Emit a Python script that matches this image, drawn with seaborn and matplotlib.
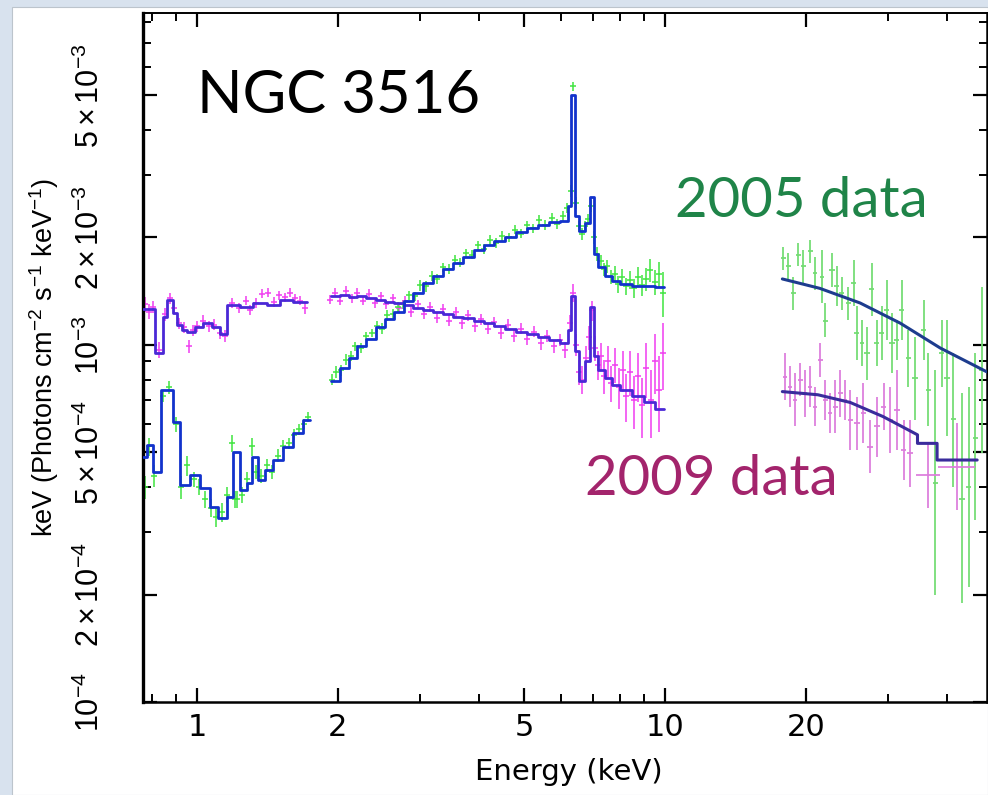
import matplotlib
matplotlib.use("Agg")
import matplotlib.pyplot as plt
import seaborn as sns
import numpy as np
from matplotlib.patches import Rectangle

# ---------------- data ----------------
# soft band, 2009 model: bin edges (keV) and values
soft09_edges = [0.767, 0.813, 0.847, 0.862, 0.890, 0.905, 0.927, 0.951, 0.990, 1.031,
                1.075, 1.120, 1.157, 1.236, 1.319, 1.409, 1.504, 1.606, 1.716]
soft09_model = [1.26e-3, 9.5e-4, 1.20e-3, 1.34e-3, 1.23e-3, 1.14e-3, 1.10e-3, 1.09e-3, 1.12e-3,
                1.15e-3, 1.12e-3, 1.07e-3, 1.29e-3, 1.28e-3, 1.31e-3, 1.29e-3, 1.34e-3, 1.32e-3]
# soft band, 2005 model
soft05_edges = [0.767, 0.781, 0.806, 0.840, 0.890, 0.920, 0.966, 1.015, 1.066, 1.111, 1.157,
                1.196, 1.236, 1.277, 1.309, 1.352, 1.398, 1.456, 1.529, 1.606, 1.687, 1.744]
soft05_model = [4.86e-4, 5.25e-4, 4.41e-4, 7.48e-4, 6.08e-4, 4.06e-4, 4.32e-4, 3.98e-4, 3.52e-4,
                3.28e-4, 3.75e-4, 5.02e-4, 3.93e-4, 4.11e-4, 4.86e-4, 4.19e-4, 4.47e-4, 4.76e-4,
                5.18e-4, 5.67e-4, 6.17e-4]

# soft band data points (keV, 1e-3 units)
soft09_E = [0.775, 0.790, 0.805, 0.830, 0.855, 0.875, 0.895, 0.915, 0.940, 0.960, 0.980, 1.000,
            1.030, 1.060, 1.090, 1.120, 1.150, 1.190, 1.230, 1.270, 1.300, 1.340, 1.380, 1.420,
            1.460, 1.500, 1.540, 1.580, 1.620, 1.660, 1.700]
soft09_v = [1.30, 1.24, 1.28, 0.97, 1.22, 1.35, 1.27, 1.15, 1.12, 0.99, 1.10, 1.13, 1.17, 1.13,
            1.14, 1.08, 1.06, 1.31, 1.27, 1.33, 1.25, 1.31, 1.39, 1.40, 1.32, 1.38, 1.36, 1.40,
            1.35, 1.33, 1.27]
soft09_err = [0.06, 0.06, 0.05, 0.05, 0.05, 0.05, 0.05, 0.04, 0.04, 0.04, 0.04, 0.04, 0.04, 0.04,
              0.04, 0.04, 0.04, 0.04, 0.04, 0.04, 0.04, 0.04, 0.04, 0.04, 0.04, 0.04, 0.04, 0.04,
              0.04, 0.04, 0.05]
soft05_E = [0.775, 0.790, 0.810, 0.845, 0.870, 0.900, 0.925, 0.950, 0.985, 1.010, 1.040, 1.070,
            1.100, 1.130, 1.160, 1.190, 1.205, 1.220, 1.250, 1.280, 1.310, 1.340, 1.370, 1.410,
            1.450, 1.490, 1.530, 1.570, 1.610, 1.650, 1.690, 1.730]
soft05_v = [0.40, 0.52, 0.43, 0.72, 0.76, 0.60, 0.40, 0.46, 0.42, 0.40, 0.37, 0.35, 0.33, 0.34,
            0.38, 0.53, 0.37, 0.37, 0.38, 0.42, 0.52, 0.44, 0.43, 0.46, 0.44, 0.49, 0.52, 0.53,
            0.56, 0.58, 0.60, 0.63]
soft05_err = [0.03, 0.03, 0.03, 0.03, 0.03, 0.03, 0.03, 0.03, 0.02, 0.02, 0.02, 0.02, 0.02, 0.02,
              0.02, 0.03, 0.02, 0.02, 0.02, 0.02, 0.03, 0.02, 0.02, 0.02, 0.02, 0.02, 0.02, 0.02,
              0.02, 0.02, 0.02, 0.02]

# 2-10 keV band models: bin edges and values
hard_edges = [1.93, 2.02, 2.11, 2.20, 2.30, 2.41, 2.52, 2.64, 2.77, 2.90, 3.04, 3.19, 3.35,
              3.52, 3.70, 3.90, 4.10, 4.32, 4.55, 4.80, 5.06, 5.34, 5.64, 5.95, 6.20, 6.30,
              6.42, 6.55, 6.75, 6.90, 7.05, 7.20, 7.45, 7.70, 8.00, 8.50, 9.00, 9.50, 9.95]
hard05_model = [0.79e-3, 0.86e-3, 0.92e-3, 0.99e-3, 1.04e-3, 1.12e-3, 1.18e-3, 1.24e-3, 1.33e-3,
                1.40e-3, 1.49e-3, 1.56e-3, 1.63e-3, 1.70e-3, 1.76e-3, 1.84e-3, 1.90e-3, 1.95e-3,
                2.01e-3, 2.07e-3, 2.12e-3, 2.17e-3, 2.21e-3, 2.22e-3, 2.45e-3, 5.0e-3, 2.30e-3,
                2.08e-3, 2.20e-3, 2.60e-3, 1.80e-3, 1.65e-3, 1.56e-3, 1.51e-3, 1.48e-3, 1.46e-3,
                1.46e-3, 1.45e-3]
hard09_model = [1.37e-3, 1.38e-3, 1.36e-3, 1.37e-3, 1.35e-3, 1.34e-3, 1.32e-3, 1.31e-3, 1.29e-3,
                1.27e-3, 1.25e-3, 1.24e-3, 1.22e-3, 1.20e-3, 1.19e-3, 1.17e-3, 1.15e-3, 1.13e-3,
                1.11e-3, 1.09e-3, 1.07e-3, 1.05e-3, 1.03e-3, 1.01e-3, 1.10e-3, 1.37e-3, 0.96e-3,
                0.79e-3, 0.90e-3, 1.28e-3, 0.93e-3, 0.85e-3, 0.81e-3, 0.77e-3, 0.75e-3, 0.72e-3,
                0.69e-3, 0.66e-3]

# 2-10 keV data points (keV, 1e-3 units)
hard05_E = [1.94, 1.98, 2.03, 2.08, 2.13, 2.18, 2.24, 2.30, 2.36, 2.42, 2.48, 2.55, 2.62, 2.69,
            2.76, 2.84, 2.92, 3.00, 3.08, 3.17, 3.26, 3.35, 3.45, 3.55, 3.65, 3.76, 3.87, 3.99,
            4.11, 4.23, 4.36, 4.49, 4.63, 4.77, 4.92, 5.07, 5.23, 5.39, 5.55, 5.72, 5.89, 6.05,
            6.18, 6.28, 6.36, 6.45, 6.55, 6.65, 6.76, 6.86, 6.96, 7.06, 7.16, 7.28, 7.40, 7.53,
            7.66, 7.80, 7.94, 8.09, 8.24, 8.40, 8.57, 8.74, 8.92, 9.10, 9.30, 9.50, 9.70, 9.88]
hard05_v = [0.80, 0.84, 0.85, 0.91, 0.93, 0.99, 0.98, 1.06, 1.08, 1.13, 1.11, 1.21, 1.22, 1.28,
            1.30, 1.38, 1.37, 1.47, 1.46, 1.56, 1.53, 1.65, 1.63, 1.73, 1.70, 1.81, 1.79, 1.90,
            1.86, 1.97, 1.93, 2.02, 2.00, 2.10, 2.05, 2.16, 2.12, 2.24, 2.17, 2.27, 2.18, 2.30,
            2.42, 2.70, 5.30, 2.50, 2.15, 2.05, 2.15, 2.25, 2.45, 2.00, 1.80, 1.72, 1.63, 1.66,
            1.55, 1.58, 1.48, 1.55, 1.46, 1.52, 1.44, 1.55, 1.47, 1.53, 1.62, 1.50, 1.58, 1.40]
hard05_err = [0.03, 0.03, 0.03, 0.03, 0.03, 0.03, 0.03, 0.03, 0.03, 0.04, 0.04, 0.04, 0.04, 0.04,
              0.04, 0.04, 0.04, 0.05, 0.05, 0.05, 0.05, 0.05, 0.05, 0.05, 0.05, 0.05, 0.05, 0.06,
              0.06, 0.06, 0.06, 0.06, 0.06, 0.06, 0.06, 0.06, 0.06, 0.07, 0.07, 0.07, 0.07, 0.07,
              0.08, 0.10, 0.15, 0.10, 0.08, 0.08, 0.08, 0.08, 0.10, 0.08, 0.08, 0.07, 0.07, 0.07,
              0.07, 0.08, 0.08, 0.08, 0.08, 0.09, 0.09, 0.10, 0.10, 0.11, 0.12, 0.12, 0.13, 0.20]
hard09_E = [1.92, 1.97, 2.02, 2.08, 2.14, 2.20, 2.26, 2.33, 2.40, 2.47, 2.54, 2.62, 2.70, 2.78,
            2.87, 2.96, 3.05, 3.15, 3.25, 3.35, 3.46, 3.57, 3.68, 3.80, 3.92, 4.05, 4.18, 4.32,
            4.46, 4.61, 4.76, 4.92, 5.08, 5.25, 5.42, 5.60, 5.78, 5.96, 6.12, 6.25, 6.36, 6.46,
            6.56, 6.66, 6.77, 6.88, 6.98, 7.08, 7.19, 7.30, 7.42, 7.55, 7.68, 7.82, 7.96, 8.11,
            8.26, 8.42, 8.59, 8.76, 8.94, 9.12, 9.31, 9.50, 9.70, 9.88]
hard09_v = [1.34, 1.40, 1.33, 1.42, 1.35, 1.40, 1.33, 1.39, 1.31, 1.37, 1.30, 1.35, 1.27, 1.33,
            1.24, 1.30, 1.22, 1.28, 1.19, 1.26, 1.17, 1.24, 1.15, 1.21, 1.13, 1.18, 1.11, 1.16,
            1.08, 1.14, 1.06, 1.11, 1.04, 1.09, 1.01, 1.06, 0.99, 1.03, 0.97, 1.15, 1.40, 1.00,
            0.84, 0.80, 0.92, 1.05, 1.25, 0.98, 0.88, 0.93, 0.82, 0.90, 0.78, 0.88, 0.76, 0.85,
            0.72, 0.84, 0.70, 0.82, 0.68, 0.86, 0.70, 0.90, 0.75, 0.95]
hard09_err = [0.04, 0.04, 0.04, 0.04, 0.04, 0.04, 0.04, 0.04, 0.04, 0.04, 0.04, 0.04, 0.04, 0.04,
              0.04, 0.04, 0.04, 0.04, 0.04, 0.04, 0.04, 0.04, 0.04, 0.04, 0.04, 0.04, 0.04, 0.04,
              0.04, 0.04, 0.04, 0.04, 0.04, 0.04, 0.04, 0.04, 0.04, 0.04, 0.05, 0.06, 0.08, 0.07,
              0.07, 0.07, 0.07, 0.08, 0.08, 0.08, 0.08, 0.08, 0.09, 0.09, 0.09, 0.10, 0.10, 0.11,
              0.11, 0.12, 0.12, 0.13, 0.13, 0.15, 0.15, 0.17, 0.18, 0.20]

# 15-50 keV band models
hi05_model_E = [17.8, 21.4, 26.1, 31.8, 38.7, 48.7]
hi05_model = [1.53e-3, 1.44e-3, 1.31e-3, 1.15e-3, 0.98e-3, 0.84e-3]
hi09_model_E = [17.8, 21.2, 24.85, 29.2, 32.9, 34.6, 34.6, 38.1, 38.1, 46.4]
hi09_model = [0.74e-3, 0.725e-3, 0.69e-3, 0.63e-3, 0.58e-3, 0.56e-3, 0.53e-3, 0.53e-3,
              0.476e-3, 0.476e-3]

# 15-50 keV data (keV, half bin width, centre / low / high in 1e-3 units)
hi05_E = [17.9, 18.34, 18.8, 19.27, 19.75, 20.4, 20.9, 21.62, 21.98, 22.71, 23.27, 23.86, 24.64,
          25.26, 25.68, 26.32, 26.98, 27.65, 28.34, 29.04, 29.76, 30.5, 31.26, 32.04, 33.1, 34.2,
          35.64, 36.5, 37.75, 39.0, 40.0, 41.3, 43.05, 44.5, 45.95, 47.5]
hi05_dE = [0.2, 0.2, 0.2, 0.2, 0.25, 0.25, 0.25, 0.25, 0.25, 0.3, 0.3, 0.3, 0.3, 0.3, 0.3, 0.3,
           0.35, 0.35, 0.35, 0.35, 0.35, 0.4, 0.4, 0.4, 0.4, 0.45, 0.45, 0.45, 0.5, 0.5, 0.5,
           0.55, 0.6, 0.6, 0.6, 0.6]
hi05_v = [1.75, 1.66, 1.40, 1.79, 1.66, 1.83, 1.59, 1.55, 1.17, 1.62, 1.46, 1.40, 1.31, 1.49,
          1.08, 1.01, 0.95, 1.43, 1.01, 1.08, 1.25, 1.01, 1.03, 1.25, 0.92, 0.81, 1.10, 0.75,
          0.41, 0.95, 0.81, 0.62, 0.37, 0.40, 0.55, 0.85]
hi05_lo = [1.623, 1.521, 1.253, 1.658, 1.489, 1.694, 1.426, 1.308, 1.055, 1.457, 1.281, 1.253,
           1.175, 1.281, 0.908, 0.870, 0.798, 1.201, 0.870, 0.908, 1.033, 0.833, 0.908, 1.033,
           0.764, 0.617, 0.908, 0.591, 0.200, 0.764, 0.554, 0.401, 0.189, 0.210, 0.323, 0.497]
hi05_hi = [1.886, 1.806, 1.554, 1.927, 1.846, 1.968, 1.768, 1.846, 1.308, 1.806, 1.658, 1.554,
           1.457, 1.730, 1.281, 1.175, 1.125, 1.694, 1.175, 1.281, 1.521, 1.227, 1.175, 1.521,
           1.102, 1.055, 1.337, 0.948, 0.851, 1.175, 1.175, 0.948, 0.732, 0.764, 0.948, 1.457]
hi09_E = [18.05, 18.5, 18.96, 19.44, 19.92, 20.4, 20.9, 21.44, 21.98, 22.5, 23.08, 23.65, 24.24,
          24.85, 25.68, 26.53, 27.42, 28.34, 29.28, 30.26, 31.26, 32.3, 33.38, 36.5, 42.0]
hi09_dE = [0.2, 0.2, 0.2, 0.22, 0.22, 0.22, 0.25, 0.25, 0.25, 0.25, 0.28, 0.28, 0.28, 0.3, 0.35,
           0.35, 0.38, 0.38, 0.4, 0.4, 0.42, 0.45, 0.45, 2.1, 3.8]
hi09_v = [0.815, 0.764, 0.701, 0.798, 0.732, 0.764, 0.672, 0.908, 0.701, 0.644, 0.672, 0.732,
          0.701, 0.617, 0.603, 0.644, 0.519, 0.591, 0.672, 0.617, 0.658, 0.508, 0.497, 0.432,
          0.456]
hi09_lo = [0.701, 0.672, 0.591, 0.720, 0.630, 0.672, 0.591, 0.815, 0.617, 0.565, 0.565, 0.630,
           0.617, 0.508, 0.508, 0.530, 0.437, 0.486, 0.578, 0.497, 0.508, 0.418, 0.401, 0.350,
           0.345]
hi09_hi = [0.948, 0.870, 0.833, 0.890, 0.851, 0.870, 0.764, 1.011, 0.798, 0.732, 0.798, 0.851,
           0.798, 0.748, 0.716, 0.780, 0.617, 0.716, 0.780, 0.764, 0.851, 0.617, 0.617, 0.530,
           0.603]

# axis ticks
x_major = [1, 2, 5, 10, 20]
x_major_labels = ["1", "2", "5", "10", "20"]
x_minor = [0.8, 0.9, 3, 4, 6, 7, 8, 9, 30, 40]
y_major = [1e-4, 2e-4, 5e-4, 1e-3, 2e-3, 5e-3]
y_major_labels = [r"$10^{-4}$", r"$2\times10^{-4}$", r"$5\times10^{-4}$",
                  r"$10^{-3}$", r"$2\times10^{-3}$", r"$5\times10^{-3}$"]
y_minor = [3e-4, 4e-4, 6e-4, 7e-4, 8e-4, 9e-4, 3e-3, 4e-3, 6e-3, 7e-3, 8e-3]

# ---------------- style ----------------
sns.set_theme(style="ticks")
plt.rcParams['font.family'] = ['Liberation Sans', 'DejaVu Sans']
plt.rcParams['mathtext.fontset'] = 'custom'
plt.rcParams['mathtext.rm'] = 'Liberation Sans'
plt.rcParams['mathtext.it'] = 'Liberation Sans:italic'
plt.rcParams['mathtext.bf'] = 'Liberation Sans:bold'
plt.rcParams['axes.labelcolor'] = 'black'
plt.rcParams['text.color'] = 'black'

BG = '#d8e2ee'
GREEN = '#3ee43e'
GREEN_HI = '#72dc72'
MAG = '#f03cf0'
MAG_HI = '#dc7ddc'
BLUE05 = '#1232cc'
BLUE09 = '#4a28d6'
NAVY05 = '#1d3c8e'
NAVY09 = '#3a2c9c'

fig = plt.figure(figsize=(9.88, 7.95), dpi=100)
fig.patch.set_facecolor(BG)
fig.patches.append(Rectangle((12 / 988, 0), 976 / 988, 788 / 795, transform=fig.transFigure,
                             facecolor='white', edgecolor='#bcc4cc', lw=0.8, zorder=-10))
ax = fig.add_axes([143 / 988, 93 / 795, 844 / 988, 689 / 795])
ax.set_zorder(5)
ax.set_facecolor('white')

S = 1e-3


def data_err(E, v, err, color, ms=4.5):
    vv = np.array(v) * S
    ee = np.array(err) * S
    ax.errorbar(E, vv, yerr=ee, fmt='_', color=color, ecolor=color, ms=ms, mew=1.1,
                elinewidth=1.1, zorder=2)


def data_range(E, dE, v, lo, hi, color):
    vv = np.array(v) * S
    yerr = [vv - np.array(lo) * S, np.array(hi) * S - vv]
    ax.errorbar(E, vv, xerr=dE, yerr=yerr, fmt='none', ecolor=color, elinewidth=1.4,
                alpha=0.9, zorder=2)


def step_model(edges, vals, color, lw=2.0):
    sns.lineplot(x=list(edges), y=list(vals) + [vals[-1]], drawstyle='steps-post',
                 estimator=None, sort=False, color=color, lw=lw, ax=ax, zorder=3)


# data
data_err(soft09_E, soft09_v, soft09_err, MAG)
data_err(soft05_E, soft05_v, soft05_err, GREEN)
data_err(hard09_E, hard09_v, hard09_err, MAG)
data_err(hard05_E, hard05_v, hard05_err, GREEN)
data_range(hi05_E, hi05_dE, hi05_v, hi05_lo, hi05_hi, GREEN_HI)
data_range(hi09_E, hi09_dE, hi09_v, hi09_lo, hi09_hi, MAG_HI)

# models
step_model(soft09_edges, soft09_model, BLUE09)
step_model(soft05_edges, soft05_model, BLUE05)
step_model(hard_edges, hard09_model, BLUE09)
step_model(hard_edges, hard05_model, BLUE05)
sns.lineplot(x=hi05_model_E, y=hi05_model, estimator=None, sort=False, color=NAVY05, lw=2.2,
             ax=ax, zorder=3)
sns.lineplot(x=hi09_model_E, y=hi09_model, estimator=None, sort=False, color=NAVY09, lw=2.2,
             ax=ax, zorder=3)

# axes
ax.set_xscale('log')
ax.set_yscale('log')
ax.set_xlim(0.767, 48.7)
ax.set_ylim(1e-4, 8.5e-3)
ax.set_xticks(x_major)
ax.set_xticklabels(x_major_labels, fontsize=22, family='DejaVu Sans')
ax.set_xticks(x_minor, minor=True)
ax.set_xticklabels([], minor=True)
ax.set_yticks(y_major)
ax.set_yticklabels(y_major_labels, fontsize=22, rotation=90, va='center')
ax.set_yticks(y_minor, minor=True)
ax.set_yticklabels([], minor=True)
ax.tick_params(which='both', direction='in', top=True, right=True, colors='black',
               labelcolor='black')
ax.tick_params(which='major', length=10, width=1.6)
ax.tick_params(which='minor', length=6, width=1.4)
ax.tick_params(axis='y', which='major', pad=27)
ax.tick_params(axis='x', which='major', pad=8)
for side, lw in (('left', 2.4), ('bottom', 1.8), ('top', 1.4), ('right', 1.8)):
    ax.spines[side].set_linewidth(lw)
    ax.spines[side].set_color('black')

ax.set_xlabel("Energy (keV)", fontsize=21, family='DejaVu Sans', color='black')
ax.xaxis.set_label_coords(0.505, -0.082)
ax.xaxis.label.set_va('top')
ax.set_ylabel(r"keV (Photons cm$^{-2}$ s$^{-1}$ keV$^{-1}$)", fontsize=19.5, color='black')
ax.yaxis.set_label_coords(-0.097, 0.5)

# annotations
ax.text(0.064, 0.855, "NGC 3516", transform=ax.transAxes, fontsize=43, family='Lato',
        color='black', va='baseline', ha='left')
ax.text(0.630, 0.704, "2005 data", transform=ax.transAxes, fontsize=40.5, family='Lato',
        color='#1f8448', va='baseline', ha='left')
ax.text(0.524, 0.300, "2009 data", transform=ax.transAxes, fontsize=40.5, family='Lato',
        color='#a3246c', va='baseline', ha='left')

fig.savefig("out.png", dpi=100, facecolor=fig.get_facecolor())
